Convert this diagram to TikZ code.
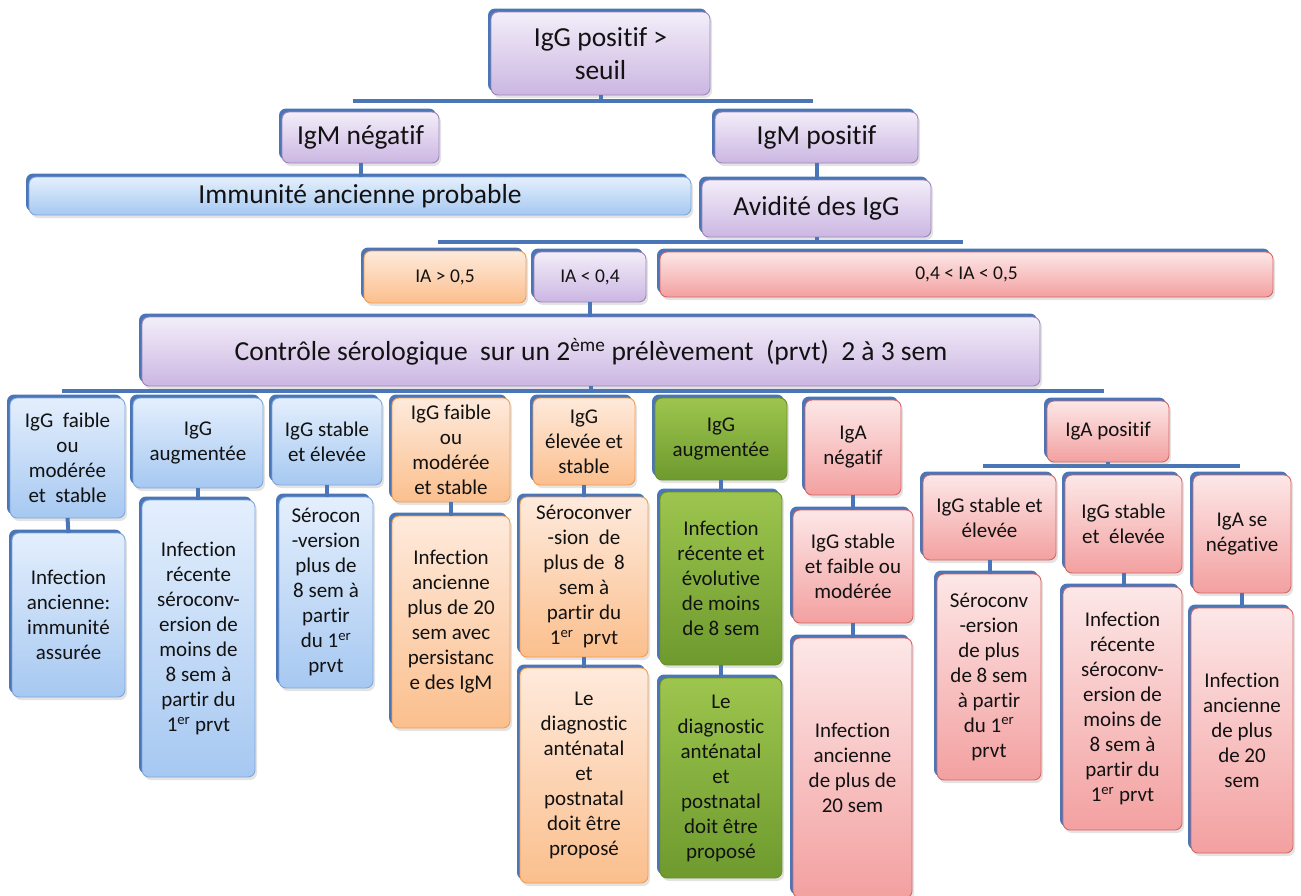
\documentclass[tikz,border=0pt]{standalone}
\usepackage{fontspec}
\setmainfont{Carlito}[Ligatures=NoCommon]
\usetikzlibrary{shadows}
\definecolor{edge}{HTML}{4A76B8}
\definecolor{txt}{HTML}{121212}
\definecolor{purpTop}{HTML}{F3EEF9}
\definecolor{purpBot}{HTML}{CBB6E2}
\definecolor{purpBorder}{HTML}{9B86B9}
\definecolor{blueTop}{HTML}{E4EFFD}
\definecolor{blueBot}{HTML}{A6C8F1}
\definecolor{blueBorder}{HTML}{7EA6DA}
\definecolor{orTop}{HTML}{FEEADC}
\definecolor{orBot}{HTML}{FBBF8D}
\definecolor{orBorder}{HTML}{F39C52}
\definecolor{grTop}{HTML}{9DC54E}
\definecolor{grBot}{HTML}{6E9A2E}
\definecolor{grBorder}{HTML}{6A8F2B}
\definecolor{pkTop}{HTML}{FDE7E7}
\definecolor{pkBot}{HTML}{F3A0A0}
\definecolor{pkBorder}{HTML}{D86464}
\tikzset{
  bx/.style={rounded corners=7pt, inner sep=0pt, outer sep=0pt, align=center,
    text=txt, line width=0.9pt,
    drop shadow={opacity=0.22, shadow xshift=2pt, shadow yshift=-3pt},
    general shadow={fill=edge, shadow xshift=-3pt, shadow yshift=3.5pt}},
  purp/.style={bx, top color=purpTop, bottom color=purpBot, draw=purpBorder},
  bluebx/.style={bx, top color=blueTop, bottom color=blueBot, draw=blueBorder},
  orbx/.style={bx, top color=orTop, bottom color=orBot, draw=orBorder},
  grbx/.style={bx, top color=grTop, bottom color=grBot, draw=grBorder},
  pkbx/.style={bx, top color=pkTop, bottom color=pkBot, draw=pkBorder},
  big/.style={font=\fontsize{27.5}{33}\selectfont},
  mid/.style={font=\fontsize{19.5}{24}\selectfont},
  sml/.style={font=\fontsize{21}{25}\selectfont},
  conn/.style={draw=edge, line width=4pt},
}
\newcommand\bx[7]{\node[#2, minimum width={(#5-#3)*1pt}, minimum height={(#6-#4)*1pt}] (#1) at ({(#3+#5)/2},{(#4+#6)/2}) {#7};}
\begin{document}
\begin{tikzpicture}[x=1pt,y=-1pt]
\useasboundingbox (0,0) rectangle (1301,895);
% bar coordinates
\coordinate (bar1L) at (353,101);
\coordinate (bar1R) at (813,101);
\coordinate (bar2L) at (438,242);
\coordinate (bar2R) at (963,242);
\coordinate (bar3L) at (62,391);
\coordinate (bar3R) at (1104,391);
\coordinate (bar4L) at (983,466);
\coordinate (bar4R) at (1240,466);
% connectors (behind the boxes)
\draw[conn] (bar1L) -- (bar1R);
\draw[conn] (bar2L) -- (bar2R);
\draw[conn] (bar3L) -- (bar3R);
\draw[conn] (bar4L) -- (bar4R);
% boxes
\bx{b1}{purp,big}{491}{12}{710}{95}{IgG positif >\\seuil}
\bx{igmn}{purp,big}{282}{112}{439}{163}{IgM négatif}
\bx{igmp}{purp,big}{715}{112}{918}{163}{IgM positif}
\bx{imm}{bluebx,big}{29}{177}{691}{215}{Immunité ancienne probable}
\bx{avid}{purp,big}{702}{180}{931}{237}{Avidité des IgG}
\bx{ia1}{orbx,mid}{364}{251}{526}{303}{IA > 0,5}
\bx{ia2}{purp,mid}{534}{252}{646}{302}{IA < 0,4}
\bx{ia3}{pkbx,mid}{660}{252}{1273}{297}{0,4 < IA < 0,5}
\bx{ctrl}{purp,big}{142}{317}{1040}{386}{Contrôle sérologique\ \ sur un 2\textsuperscript{ème} prélèvement\ \ (prvt)\ \ 2 à 3 sem}
\bx{c1}{bluebx,sml}{10}{398}{125}{518}{IgG\ \ faible\\ou\\modérée\\et\ \ stable}
\bx{d1}{bluebx,sml}{12}{533}{125}{697}{Infection\\ancienne:\\immunité\\assurée}
\bx{c2}{bluebx,sml}{133}{398}{263}{488}{IgG\\augmentée}
\bx{d2}{bluebx,sml}{142}{500}{255}{777}{Infection\\récente\\séroconv-\\ersion de\\moins de\\8 sem à\\partir du\\1\textsuperscript{er} prvt}
\bx{c3}{bluebx,sml}{272}{398}{382}{485}{IgG stable\\et élevée}
\bx{d3}{bluebx,sml}{279}{497}{373}{688}{Sérocon\\-version\\plus de\\8 sem à\\partir\\du 1\textsuperscript{er}\\prvt}
\bx{c4}{orbx,sml}{392}{398}{510}{502}{IgG faible\\ou\\modérée\\et stable}
\bx{d4}{orbx,sml}{392}{516}{510}{728}{Infection\\ancienne\\plus de 20\\sem avec\\persistanc\\e des IgM}
\bx{c5}{orbx,sml}{533}{398}{635}{485}{IgG\\élevée et\\stable}
\bx{d5}{orbx,sml}{520}{497}{648}{657}{Séroconver\\-sion\ \ de\\plus de\ \ 8\\sem à\\partir du\\1\textsuperscript{er}\ \ prvt}
\bx{e5}{orbx,sml}{520}{668}{648}{883}{Le\\diagnostic\\anténatal\\et\\postnatal\\doit être\\proposé}
\bx{c6}{grbx,sml}{655}{398}{787}{480}{IgG\\augmentée}
\bx{d6}{grbx,sml}{660}{492}{782}{665}{Infection\\récente et\\évolutive\\de moins\\de 8 sem}
\bx{e6}{grbx,sml}{660}{678}{782}{878}{Le\\diagnostic\\anténatal\\et\\postnatal\\doit être\\proposé}
\bx{c7}{pkbx,sml}{805}{400}{901}{495}{IgA\\négatif}
\bx{d7}{pkbx,sml}{793}{510}{913}{623}{IgG stable\\et faible ou\\modérée}
\bx{e7}{pkbx,sml}{793}{638}{912}{898}{Infection\\ancienne\\de plus de\\20 sem}
\bx{c8}{pkbx,sml}{1047}{401}{1169}{462}{IgA positif}
\bx{f1}{pkbx,sml}{923}{475}{1056}{560}{IgG stable et\\élevée}
\bx{f2}{pkbx,sml}{1065}{475}{1182}{573}{IgG stable\\et\ \ élevée}
\bx{f3}{pkbx,sml}{1193}{475}{1291}{593}{IgA se\\négative}
\bx{g1}{pkbx,sml}{937}{574}{1041}{780}{Séroconv\\-ersion\\de plus\\de 8 sem\\à partir\\du 1\textsuperscript{er}\\prvt}
\bx{g2}{pkbx,sml}{1063}{587}{1182}{830}{Infection\\récente\\séroconv-\\ersion de\\moins de\\8 sem à\\partir du\\1\textsuperscript{er} prvt}
\bx{g3}{pkbx,sml}{1191}{608}{1293}{853}{Infection\\ancienne\\de plus\\de 20\\sem}
% stubs
\draw[conn] (b1.south) -- (b1.south |- bar1L);
\draw[conn] (igmn.south) -- (imm.north -| igmn.south);
\draw[conn] (igmp.south) -- (avid.north -| igmp.south);
\draw[conn] (avid.south) -- (avid.south |- bar2L);
\draw[conn] (ia2.south) -- (ctrl.north -| ia2.south);
\draw[conn] (ctrl.south) -- (ctrl.south |- bar3L);
\draw[conn] (c8.south) -- (c8.south |- bar4L);
\draw[conn] (c1.south) -- (d1.north);
\draw[conn] (c2.south) -- (d2.north -| c2.south);
\draw[conn] (c3.south) -- (d3.north -| c3.south);
\draw[conn] (c4.south) -- (d4.north);
\draw[conn] (c5.south) -- (d5.north -| c5.south);
\draw[conn] (d5.south) -- (e5.north);
\draw[conn] (c6.south) -- (d6.north -| c6.south);
\draw[conn] (d6.south) -- (e6.north);
\draw[conn] (c7.south) -- (d7.north -| c7.south);
\draw[conn] (d7.south) -- (e7.north -| d7.south);
\draw[conn] (f1.south) -- (g1.north -| f1.south);
\draw[conn] (f2.south) -- (g2.north -| f2.south);
\draw[conn] (f3.south) -- (g3.north -| f3.south);
\end{tikzpicture}
\end{document}
